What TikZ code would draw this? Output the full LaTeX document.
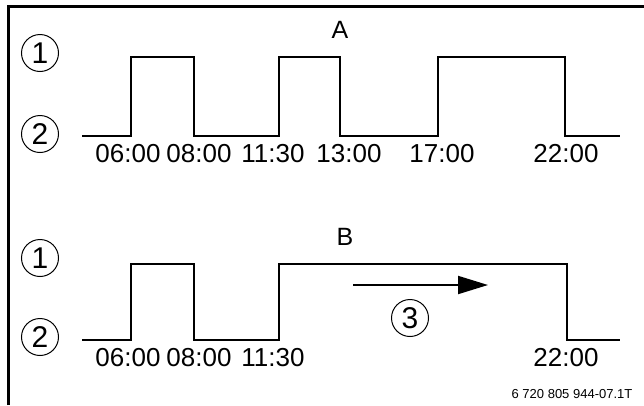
\documentclass[tikz,border=0pt]{standalone}
\usepackage{fontspec}
\setmainfont{Liberation Sans}
\usetikzlibrary{arrows.meta}
\begin{document}
\begin{tikzpicture}[x=1pt,y=-1pt,
  wave/.style={line width=1.3pt,line join=miter},
  frameline/.style={line width=3pt},
  timelbl/.style={anchor=base,inner sep=0pt,font=\fontsize{26}{26}\selectfont},
  title/.style={anchor=base,inner sep=0pt,font=\fontsize{25}{25}\selectfont},
  marker/.style={circle,draw,line width=1pt,minimum size=37pt,inner sep=0pt,font=\fontsize{30}{30}\selectfont},
  flow/.style={line width=2pt,-{Triangle[length=30pt,width=18pt]}},
  footer/.style={inner sep=0pt,font=\fontsize{13}{13}\selectfont}]
\useasboundingbox (0,0) rectangle (644,405);
\fill[white] (0,0) rectangle (644,405);
% frame
\coordinate (fb) at (8,405);
\coordinate (fc) at (8,6);
\coordinate (fr) at (644,6);
\draw[frameline] (fb) -- (fc) -- (fr);
% diagram A
\node[title] (tA) at (340,38) {A};
\node[marker] (a1) at (40,53) {1};
\node[marker] (a2) at (40,134) {2};
\draw[wave] (82,136) -- (131,136) -- (131,57) -- (194,57) -- (194,136) -- (279,136) -- (279,57)
  -- (340,57) -- (340,136) -- (438,136) -- (438,57) -- (565,57) -- (565,136) -- (620,136);
\node[timelbl] (la1) at (128,162) {06:00};
\node[timelbl] (la2) at (199,162) {08:00};
\node[timelbl] (la3) at (273,162) {11:30};
\node[timelbl] (la4) at (349,162) {13:00};
\node[timelbl] (la5) at (442,162) {17:00};
\node[timelbl] (la6) at (566,162) {22:00};
% diagram B
\node[title] (tB) at (345,245) {B};
\node[marker] (b1) at (40,258) {1};
\node[marker] (b2) at (40,337) {2};
\draw[wave] (82,340) -- (131,340) -- (131,264) -- (194,264) -- (194,340) -- (279,340) -- (279,264)
  -- (567,264) -- (567,340) -- (620,340);
\node[timelbl] (lb1) at (128,366) {06:00};
\node[timelbl] (lb2) at (199,366) {08:00};
\node[timelbl] (lb3) at (273,366) {11:30};
\node[timelbl] (lb6) at (566,366) {22:00};
\coordinate (as) at (353,285);
\coordinate (ae) at (488,285);
\draw[flow] (as) -- (ae);
\node[marker] (b3) at (410,318) {3};
\node[footer] (ft) at (572,394) {6 720 805 944-07.1T};
\end{tikzpicture}
\end{document}
